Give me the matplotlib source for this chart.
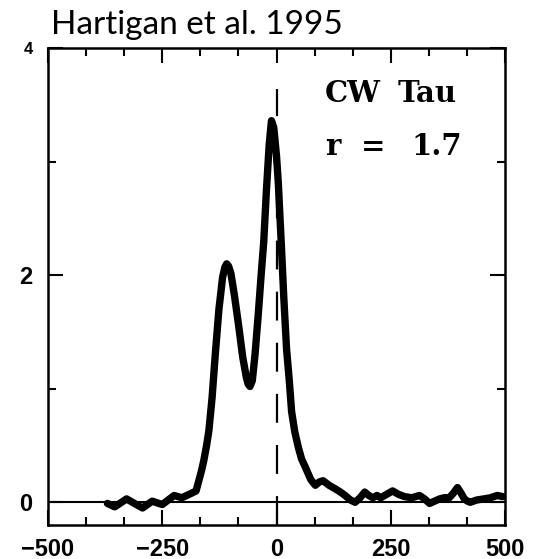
import numpy as np
import matplotlib.pyplot as plt
from matplotlib.ticker import MultipleLocator

# line profile, velocity (km/s) vs normalised flux
velocity = [-370, -354, -328, -311, -293, -272, -250, -224, -207, -186, -176, -170,
            -164, -159, -153, -148, -141, -134, -126, -118, -113, -109, -105, -100, -92, -83,
            -74, -66, -62, -58, -53, -47, -40, -34, -28, -22, -16, -11, -6, 0, 4,
            11, 16, 22, 28, 33, 40, 48, 55, 63, 75, 85, 94, 102, 115, 128, 140,
            150, 162, 172, 183, 193, 202, 211, 220, 228, 241, 254, 267, 280, 296,
            313, 324, 335, 346, 357, 367, 378, 387, 396, 404, 411, 418, 424, 438,
            454, 468, 483, 495]
flux = [-0.01, -0.04, 0.03, -0.01, -0.05, 0.01, -0.02, 0.06, 0.04, 0.08, 0.10, 0.19,
        0.28, 0.37, 0.50, 0.63, 0.92, 1.30, 1.70, 1.98, 2.07, 2.10, 2.08, 2.02, 1.82, 1.56,
        1.28, 1.10, 1.04, 1.02, 1.07, 1.30, 1.65, 1.98, 2.29, 2.75, 3.15, 3.36, 3.30, 3.05, 2.81,
        2.23, 1.80, 1.35, 1.07, 0.80, 0.62, 0.48, 0.38, 0.31, 0.20, 0.15, 0.18, 0.19, 0.15, 0.12, 0.09,
        0.06, 0.02, 0.00, 0.04, 0.09, 0.06, 0.04, 0.06, 0.04, 0.07, 0.10, 0.07, 0.05, 0.04,
        0.06, 0.03, -0.01, 0.01, 0.03, 0.04, 0.04, 0.08, 0.13, 0.08, 0.03, 0.01, 0.00, 0.02,
        0.03, 0.04, 0.06, 0.05]

xticks = [-500, -250, 0, 250, 500]
yticks = [0, 2, 4]

fig = plt.figure(figsize=(5.37, 5.59), dpi=100)
ax = fig.add_axes([0.0894, 0.0608, 0.851, 0.8533])

ax.axhline(0, color='black', lw=1.5, zorder=1)
ax.plot([0, 0], [-0.2, 3.64], color='black', lw=1.6, dashes=(13, 10), zorder=2)
ax.plot(velocity, flux, color='black', lw=5.3, solid_joinstyle='round',
        solid_capstyle='round', zorder=3)

ax.set_xlim(-500, 500)
ax.set_ylim(-0.2, 3.97)
ax.set_xticks(xticks)
ax.set_yticks(yticks)
ax.xaxis.set_minor_locator(MultipleLocator(250 / 3))
ax.yaxis.set_minor_locator(MultipleLocator(1))
ax.tick_params(which='both', direction='in', top=True, right=True, width=1.5)
ax.tick_params(which='major', length=11)
ax.tick_params(which='minor', length=6)
ax.tick_params(axis='x', pad=9)
ax.tick_params(axis='y', pad=11)
for lab in ax.get_xticklabels() + ax.get_yticklabels():
    lab.set_fontfamily('Liberation Sans')
    lab.set_fontweight('bold')
    lab.set_fontsize(17)
ax.get_yticklabels()[-1].set_fontsize(12)
for s in ax.spines.values():
    s.set_linewidth(1.8)

# label block, typewriter-style spacing
label_font = dict(transform=ax.transAxes, fontsize=21, family='DejaVu Serif',
                  fontweight='bold', ha='left', va='baseline')
ax.text(0.606, 0.887, 'CW', **label_font)
ax.text(0.766, 0.887, 'Tau', **label_font)
ax.text(0.606, 0.775, 'r', **label_font)
ax.text(0.685, 0.775, '=', **label_font)
ax.text(0.795, 0.775, '1.7', **label_font)

fig.text(0.095, 0.939, 'Hartigan et al. 1995', fontsize=24, family='Lato',
         ha='left', va='baseline')

fig.savefig('out.png', dpi=100)
